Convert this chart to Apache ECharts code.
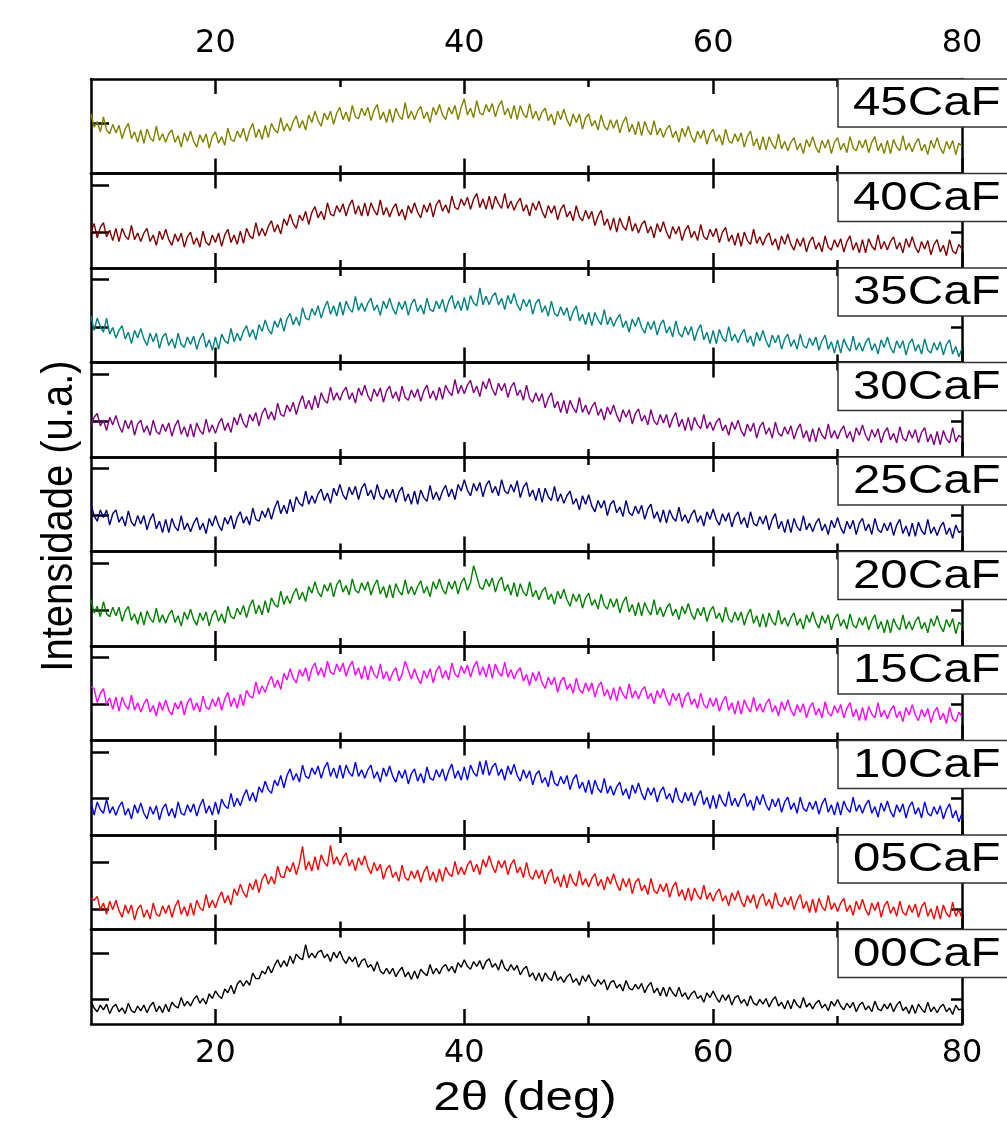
<!DOCTYPE html>
<html><head><meta charset="utf-8">
<script src="https://cdn.jsdelivr.net/npm/echarts@6/dist/echarts.min.js"></script>
<style>html,body{margin:0;padding:0;background:#fff}#c{width:1007px;height:1124px}</style>
</head><body><div id="c"></div>
<script>
// 2θ sampling grid (deg)
const twoTheta = [10,10.25,10.5,10.75,11,11.25,11.5,11.75,12,12.25,12.5,12.75,13,13.25,13.5,13.75,14,14.25,14.5,14.75,15,15.25,15.5,15.75,16,16.25,16.5,16.75,17,17.25,17.5,17.75,18,18.25,18.5,18.75,19,19.25,19.5,19.75,20,20.25,20.5,20.75,21,21.25,21.5,21.75,22,22.25,22.5,22.75,23,23.25,23.5,23.75,24,24.25,24.5,24.75,25,25.25,25.5,25.75,26,26.25,26.5,26.75,27,27.25,27.5,27.75,28,28.25,28.5,28.75,29,29.25,29.5,29.75,30,30.25,30.5,30.75,31,31.25,31.5,31.75,32,32.25,32.5,32.75,33,33.25,33.5,33.75,34,34.25,34.5,34.75,35,35.25,35.5,35.75,36,36.25,36.5,36.75,37,37.25,37.5,37.75,38,38.25,38.5,38.75,39,39.25,39.5,39.75,40,40.25,40.5,40.75,41,41.25,41.5,41.75,42,42.25,42.5,42.75,43,43.25,43.5,43.75,44,44.25,44.5,44.75,45,45.25,45.5,45.75,46,46.25,46.5,46.75,47,47.25,47.5,47.75,48,48.25,48.5,48.75,49,49.25,49.5,49.75,50,50.25,50.5,50.75,51,51.25,51.5,51.75,52,52.25,52.5,52.75,53,53.25,53.5,53.75,54,54.25,54.5,54.75,55,55.25,55.5,55.75,56,56.25,56.5,56.75,57,57.25,57.5,57.75,58,58.25,58.5,58.75,59,59.25,59.5,59.75,60,60.25,60.5,60.75,61,61.25,61.5,61.75,62,62.25,62.5,62.75,63,63.25,63.5,63.75,64,64.25,64.5,64.75,65,65.25,65.5,65.75,66,66.25,66.5,66.75,67,67.25,67.5,67.75,68,68.25,68.5,68.75,69,69.25,69.5,69.75,70,70.25,70.5,70.75,71,71.25,71.5,71.75,72,72.25,72.5,72.75,73,73.25,73.5,73.75,74,74.25,74.5,74.75,75,75.25,75.5,75.75,76,76.25,76.5,76.75,77,77.25,77.5,77.75,78,78.25,78.5,78.75,79,79.25,79.5,79.75,80];

const sampleNames = ['45CaF','40CaF','35CaF','30CaF','25CaF','20CaF','15CaF','10CaF','05CaF','00CaF'];
const sampleColors = ['#808000','#800000','#008080','#800080','#000080','#008000','#ff00ff','#0000ff','#ff0000','#000000'];

// intensities (a.u., 0-100 within each panel)
const i45 = [63,49,55,44,60,46,42,52,43,51,37,47,53,37,44,33,46,32,47,38,34,50,35,42,33,42,46,33,40,28,43,34,45,34,28,41,33,42,27,39,44,32,39,30,48,36,34,45,38,48,34,46,53,38,47,36,51,38,53,46,43,59,45,53,45,55,61,48,56,46,62,54,66,56,50,64,57,66,52,64,70,57,65,55,72,60,58,69,61,70,56,67,73,57,65,54,68,54,69,61,57,75,58,66,57,66,71,58,65,54,70,62,73,62,57,70,63,72,57,70,79,62,69,59,77,64,62,73,65,74,60,71,77,62,69,58,72,57,72,63,59,74,58,66,56,65,69,56,63,51,66,57,68,57,50,63,54,63,47,59,63,50,56,46,62,50,46,57,48,57,43,54,60,44,52,41,55,40,55,46,41,56,41,48,38,47,51,38,45,33,48,39,50,39,33,45,37,46,31,42,47,34,41,30,47,35,32,42,34,43,28,39,45,29,37,25,39,25,39,31,26,42,26,34,24,33,38,25,32,21,36,28,39,28,22,35,27,36,21,33,38,25,32,22,39,27,24,35,27,36,22,33,39,24,32,21,35,21,36,28,24,40,25,32,23,32,37,24,31,20,35,27,38,27,21,34,26,35,20,32,29];
const i40 = [38,47,32,43,48,33,40,29,42,28,42,34,30,45,30,37,28,37,42,28,35,24,39,30,41,30,24,36,28,37,22,33,38,25,32,22,39,27,24,35,27,37,23,35,41,27,35,25,39,26,42,34,31,48,34,42,34,44,50,38,46,36,52,45,57,47,42,56,50,60,46,59,65,53,60,51,69,57,55,66,59,68,55,66,72,57,66,55,69,55,69,61,56,72,56,64,54,63,68,55,62,51,66,58,69,59,53,67,59,69,54,67,72,60,67,58,76,64,62,73,66,75,62,73,79,64,73,62,76,62,76,68,63,79,63,71,61,69,74,60,67,55,69,61,71,60,53,66,58,66,51,62,67,54,60,50,66,54,50,61,52,60,45,55,61,45,52,40,53,38,53,44,40,55,39,47,37,46,50,37,44,32,47,38,49,38,31,44,36,44,29,40,45,32,39,29,46,33,30,41,33,42,27,38,43,28,35,24,37,23,38,29,25,41,26,33,24,33,37,24,31,19,34,25,36,25,19,31,23,32,17,28,33,20,27,17,34,22,19,30,22,31,17,28,34,19,27,16,30,16,31,23,19,35,20,28,19,28,33,20,27,16,31,22,33,22,16,28,20,29,14,25,30,17,24,13,30,18,15,25,20];
const i35 = [49,34,47,38,32,47,30,37,26,34,39,25,32,20,34,26,36,25,18,31,22,31,15,27,31,18,25,15,31,19,16,27,19,28,14,25,31,16,24,13,27,14,30,23,20,36,22,31,23,33,39,27,35,24,40,33,45,35,30,44,37,47,33,46,52,40,48,39,58,47,45,57,50,60,47,58,65,51,60,49,64,50,65,57,53,70,55,63,54,63,68,55,61,50,65,57,68,57,51,64,56,65,50,62,67,54,61,51,68,56,54,65,57,67,53,65,71,57,65,55,69,55,71,63,60,79,61,70,61,70,74,61,68,56,71,62,73,61,55,67,59,67,51,63,67,53,60,49,65,52,49,59,50,58,44,54,60,44,51,40,53,39,53,45,40,56,40,48,38,46,51,37,44,32,46,38,48,37,31,43,35,44,29,40,45,31,38,27,44,31,27,38,29,38,23,34,40,24,32,20,34,20,35,26,22,38,23,30,21,30,35,21,28,17,32,23,34,23,16,29,21,29,14,25,30,17,24,14,30,18,15,26,18,27,13,23,29,14,22,10,24,10,25,17,12,28,13,21,12,21,26,13,20,9,24,16,27,16,10,23,15,23,8,20,25,12,19,9,25,13,10,21,13,22,8,19,24,9,17,6,15];
const i30 = [33,42,46,33,39,28,42,34,44,33,26,39,30,39,23,35,39,26,33,23,39,27,24,35,27,36,22,33,39,24,32,21,35,21,36,28,24,40,26,34,25,35,41,28,36,26,42,34,46,36,31,45,38,47,33,46,52,40,48,39,57,45,43,55,48,58,45,57,65,51,60,50,65,52,68,60,57,74,60,68,60,69,74,61,68,57,73,65,76,65,59,72,64,73,58,70,75,62,69,59,75,63,60,71,63,72,59,70,76,62,70,60,74,61,76,69,65,82,67,76,67,76,81,68,75,64,80,72,83,72,65,78,70,78,63,74,79,65,71,60,76,62,58,68,59,67,52,62,68,52,59,47,60,46,60,52,47,63,47,55,45,53,58,44,51,39,53,45,55,44,37,50,42,50,35,46,51,38,44,34,50,38,34,45,36,45,31,41,47,32,40,28,42,28,42,34,30,45,30,37,28,37,41,28,34,23,37,29,39,28,22,35,27,36,20,32,37,24,31,20,37,25,22,32,24,33,19,29,35,20,28,16,30,16,31,23,19,35,20,28,19,28,33,20,27,16,31,23,34,23,17,29,21,30,15,26,31,18,25,15,32,20,17,28,20,29,15,26,31,16,24,13,27,13,28,19,15,31,16,23,20];
const i25 = [50,38,32,44,36,44,28,40,44,31,37,27,43,31,27,38,29,38,23,34,40,24,32,20,34,20,35,26,22,38,23,30,21,30,36,23,30,19,35,27,38,28,22,36,29,38,24,36,42,30,37,28,46,34,32,43,36,46,34,46,54,40,49,40,55,42,58,51,48,64,50,59,51,61,66,54,62,51,67,59,71,60,55,68,60,69,55,67,72,59,65,55,71,59,55,66,57,66,52,63,68,53,61,50,64,50,65,57,53,70,55,63,54,64,70,58,66,55,71,64,76,65,59,72,64,73,58,70,75,62,69,59,76,64,61,71,63,75,57,68,73,58,65,54,67,52,67,58,54,69,53,61,51,59,64,50,56,44,59,50,60,48,42,54,46,54,38,50,54,41,47,37,54,41,38,48,40,49,34,45,50,35,42,31,44,30,44,36,32,47,32,39,30,39,44,31,38,27,42,34,45,34,28,40,32,41,26,37,42,29,36,25,42,30,27,37,29,38,23,34,40,24,32,20,34,20,35,26,22,38,23,30,21,30,35,22,29,18,33,25,36,25,19,32,24,33,18,30,35,22,29,18,35,23,20,30,22,31,17,28,34,19,27,16,30,16,31,22,18,34,19,26,17,26,31,18,25,14,28,20,22];
const i20 = [49,35,42,31,47,34,31,41,32,41,26,37,42,27,34,23,36,22,37,29,25,40,25,33,24,33,38,25,32,21,36,28,39,28,22,35,27,36,21,33,38,26,34,24,42,31,29,40,33,43,30,42,49,34,43,33,48,35,51,44,41,58,44,53,45,55,61,49,57,47,63,56,68,57,52,65,58,67,52,65,70,57,64,54,71,59,56,67,59,68,54,64,70,55,63,51,65,51,66,58,54,70,55,63,54,63,69,56,63,52,68,60,71,60,55,68,60,69,55,67,72,59,67,85,74,62,60,71,63,72,57,68,73,58,65,54,67,52,66,57,53,68,52,59,49,58,62,49,55,44,58,50,60,49,42,55,47,55,40,51,56,43,49,39,55,43,39,50,41,50,35,46,52,36,44,32,46,32,46,38,33,49,33,41,31,40,45,32,39,28,42,34,45,34,28,40,32,41,26,37,42,29,35,25,41,29,25,36,27,36,22,33,39,24,32,20,34,20,35,26,22,38,23,30,21,30,35,22,29,18,33,25,36,25,19,32,24,33,17,29,34,21,28,18,34,22,19,30,22,31,17,27,33,18,26,14,28,14,29,21,17,33,18,26,17,26,31,18,25,14,29,21,32,21,15,28,20,29,13,25,22];
const i15 = [57,55,40,50,55,38,45,33,46,31,46,37,33,48,32,40,30,39,44,30,37,26,41,32,43,32,27,40,33,42,27,40,45,32,40,30,47,35,33,44,36,46,32,44,51,36,45,34,49,37,53,47,45,62,49,58,51,61,68,56,64,54,71,64,76,66,61,75,68,77,63,76,82,69,77,67,84,72,70,81,73,82,68,78,84,69,77,65,79,64,79,70,66,81,65,73,63,72,77,63,70,84,74,65,76,66,60,74,66,76,61,74,79,66,74,64,82,70,67,79,71,80,67,78,84,69,78,67,81,66,81,72,68,83,67,75,65,73,77,63,70,58,72,63,73,61,55,67,59,67,51,63,67,54,60,50,66,54,50,61,52,61,46,57,62,47,54,43,56,42,57,49,44,60,45,53,44,53,57,44,50,39,53,45,55,44,37,50,42,50,35,46,51,38,44,34,50,38,34,45,36,45,31,41,47,32,40,28,42,28,43,35,30,46,31,39,30,39,44,30,37,26,41,32,43,32,26,38,30,39,24,35,40,27,34,24,41,29,26,37,29,38,24,34,40,25,33,21,35,21,36,28,24,40,25,32,23,32,37,24,31,20,35,27,38,27,21,33,25,34,19,30,35,22,29,18,35,23,20,30,25];
const i10 = [35,21,35,27,23,38,23,30,21,30,35,21,28,17,32,23,34,23,17,30,22,31,16,28,33,20,28,18,35,23,21,32,24,33,20,31,38,23,31,21,35,22,38,31,28,44,30,39,31,41,48,36,45,35,51,45,57,48,44,58,52,63,50,63,70,58,65,56,74,62,60,71,64,73,60,71,77,62,71,60,74,60,74,66,62,77,62,69,60,69,74,60,67,56,71,62,73,62,56,68,60,69,54,65,70,57,65,55,72,60,58,69,61,70,57,68,75,60,68,58,72,58,74,66,62,78,64,79,63,72,76,63,70,58,73,64,75,63,57,69,60,68,53,64,68,55,61,51,68,55,52,62,54,63,48,59,64,49,56,45,58,43,58,49,45,60,44,52,42,51,56,42,49,38,53,44,55,44,37,50,42,50,35,46,51,38,44,34,50,38,34,45,36,45,31,41,47,32,40,28,42,28,43,35,30,46,31,39,30,39,44,30,37,26,41,32,43,32,26,38,30,39,24,35,40,27,34,23,40,28,25,35,27,36,22,33,39,24,32,21,35,21,36,28,24,40,25,32,23,32,37,23,30,19,34,25,36,25,19,32,24,33,18,30,35,22,29,18,35,23,20,30,22,31,17,27,33,18,26,14,23];
const i05 = [33,31,35,21,28,16,30,21,31,20,13,26,17,26,10,22,26,13,21,11,28,16,14,25,17,26,13,24,31,16,24,14,28,15,31,23,20,37,23,31,23,33,40,28,36,26,43,36,48,39,34,49,42,53,39,53,59,48,56,48,67,56,55,67,61,71,58,70,88,63,72,62,77,63,79,71,67,89,69,77,68,76,81,67,74,62,76,68,78,66,59,71,62,69,53,64,68,55,61,51,68,55,52,62,54,63,50,61,67,52,61,50,64,51,66,59,56,72,58,66,58,68,73,61,69,58,74,66,78,67,60,73,65,73,58,69,74,60,66,55,71,57,53,63,54,63,48,59,64,49,56,45,58,44,59,50,46,62,47,54,45,54,59,46,53,42,56,48,59,48,41,54,45,54,38,50,54,41,47,37,54,41,38,48,40,49,34,45,50,35,42,31,44,30,44,36,32,47,32,39,30,39,43,30,36,25,39,31,41,30,24,36,28,37,22,33,38,25,32,22,39,27,24,34,26,35,21,31,37,22,30,18,32,18,33,24,20,36,21,28,19,28,33,19,26,15,30,21,32,21,15,28,20,29,13,25,30,17,24,14,30,18,15,26,18,27,13,24,29,14,22,11,25,11,26,17,13,29,14,21,12];
const i00 = [24,17,13,20,15,21,11,18,21,13,17,11,22,14,12,19,14,20,12,19,23,13,19,12,21,13,23,19,17,28,19,24,19,26,30,22,27,21,32,27,35,30,27,37,33,41,32,42,46,40,46,41,54,48,48,56,53,61,54,62,68,60,67,61,72,64,74,70,68,84,70,75,70,76,78,70,74,66,76,70,77,69,64,71,66,71,60,67,69,60,63,56,66,56,53,59,53,59,50,56,60,50,55,47,56,48,58,54,51,63,53,59,53,60,63,56,61,54,65,60,68,61,58,66,61,67,58,66,69,60,64,57,68,59,56,63,57,62,52,58,61,50,54,46,54,45,54,49,46,56,46,50,44,50,53,44,48,41,51,45,52,44,40,47,42,47,36,44,46,38,42,35,46,38,36,42,37,43,33,40,44,33,38,30,39,29,39,33,29,39,29,33,26,32,35,27,30,23,33,28,35,28,23,31,25,31,20,28,30,22,26,19,30,22,20,26,21,27,18,25,29,19,23,16,25,16,26,20,17,28,18,22,16,22,25,17,21,14,24,19,26,19,15,22,17,23,13,20,23,15,19,13,24,16,14,21,16,22,13,20,24,14,18,11,20,11,21,16,12,23,13,18,12,18,21,13,17,10,20,15,16];

// y tick positions per panel (same units)
const yTickValues = [[53],[88,38],[88,37],[88,38],[88,38],[88,38],[88,38],[88,39],[71,21],[75,26]];
const xMajorTicks = [20,40,60,80];
const xMinorTicks = [30,50,70];

const intensities = [i45,i40,i35,i30,i25,i20,i15,i10,i05,i00];

const N = 10, TOP = 79, PH = 94.5, LEFT = 91, PW = 871;
const grid = [], xAxis = [], yAxis = [], series = [], graphic = [];
const axisLineStyle = {color:'#000', width:2.5};
for (let i = 0; i < N; i++) {
  const top = TOP + i * PH;
  grid.push({left: LEFT, top: top, width: PW, height: PH});
  const mkX = (pos, ticks, len, showLine, showLabel) => ({
    type: 'value', gridIndex: i, position: pos, min: 10, max: 80,
    axisLine: {show: showLine, onZero: false, lineStyle: axisLineStyle},
    axisTick: {show: true, inside: true, length: len, customValues: ticks, lineStyle: {color:'#000', width: 2.5}},
    axisLabel: {show: showLabel, customValues: xMajorTicks, margin: pos === 'top' ? 19 : 14,
      fontFamily: 'DejaVu Sans', fontSize: 32, color: '#000'},
    splitLine: {show: false}
  });
  xAxis.push(mkX('bottom', xMajorTicks, 15, true, i === N - 1));
  xAxis.push(mkX('top', xMajorTicks, 15, true, i === 0));
  xAxis.push(mkX('bottom', xMinorTicks, 8, false, false));
  xAxis.push(mkX('top', xMinorTicks, 8, false, false));
  const mkY = (pos, len) => ({
    type: 'value', gridIndex: i, position: pos, min: 0, max: 100,
    axisLine: {show: true, onZero: false, lineStyle: axisLineStyle},
    axisTick: {show: true, inside: true, length: len, customValues: yTickValues[i], lineStyle: {color:'#000', width: 2.5}},
    axisLabel: {show: false},
    splitLine: {show: false}
  });
  yAxis.push(mkY('left', 18));
  yAxis.push(mkY('right', 11));
  series.push({
    type: 'line', name: sampleNames[i], xAxisIndex: i * 4, yAxisIndex: i * 2,
    data: twoTheta.map((x, k) => [x, intensities[i][k]]),
    showSymbol: false, symbol: 'none', smooth: false,
    lineStyle: {color: sampleColors[i], width: 1.4}, itemStyle: {color: sampleColors[i]},
    animation: false, silent: true
  });
  graphic.push({
    type: 'rect', z: 100, shape: {x: 838, y: top, width: 200, height: 48},
    style: {fill: '#fff', stroke: '#333', lineWidth: 1.5}
  });
  graphic.push({
    type: 'text', z: 101, x: 853, y: top + 25, scaleX: 1.23,
    style: {text: sampleNames[i], fontSize: 40, fontFamily: 'Liberation Sans', fill: '#000',
      align: 'left', verticalAlign: 'middle', textAlign: 'left', textVerticalAlign: 'middle'}
  });
}
graphic.push({
  type: 'text', z: 101, x: 525, y: 1099, scaleX: 1.23,
  style: {text: '2θ (deg)', fontSize: 40, fontFamily: 'Liberation Sans', fill: '#000',
    align: 'center', verticalAlign: 'middle', textAlign: 'center', textVerticalAlign: 'middle'}
});
graphic.push({
  type: 'text', z: 101, x: 60, y: 516, rotation: Math.PI / 2, scaleY: 1.12,
  style: {text: 'Intensidade (u.a.)', fontSize: 40, fontFamily: 'Liberation Sans', fill: '#000',
    align: 'center', verticalAlign: 'middle', textAlign: 'center', textVerticalAlign: 'middle'}
});

const chart = echarts.init(document.getElementById('c'), null, {renderer: 'canvas'});
chart.setOption({animation: false, backgroundColor: '#fff', grid, xAxis, yAxis, series, graphic});
</script>
</body></html>
